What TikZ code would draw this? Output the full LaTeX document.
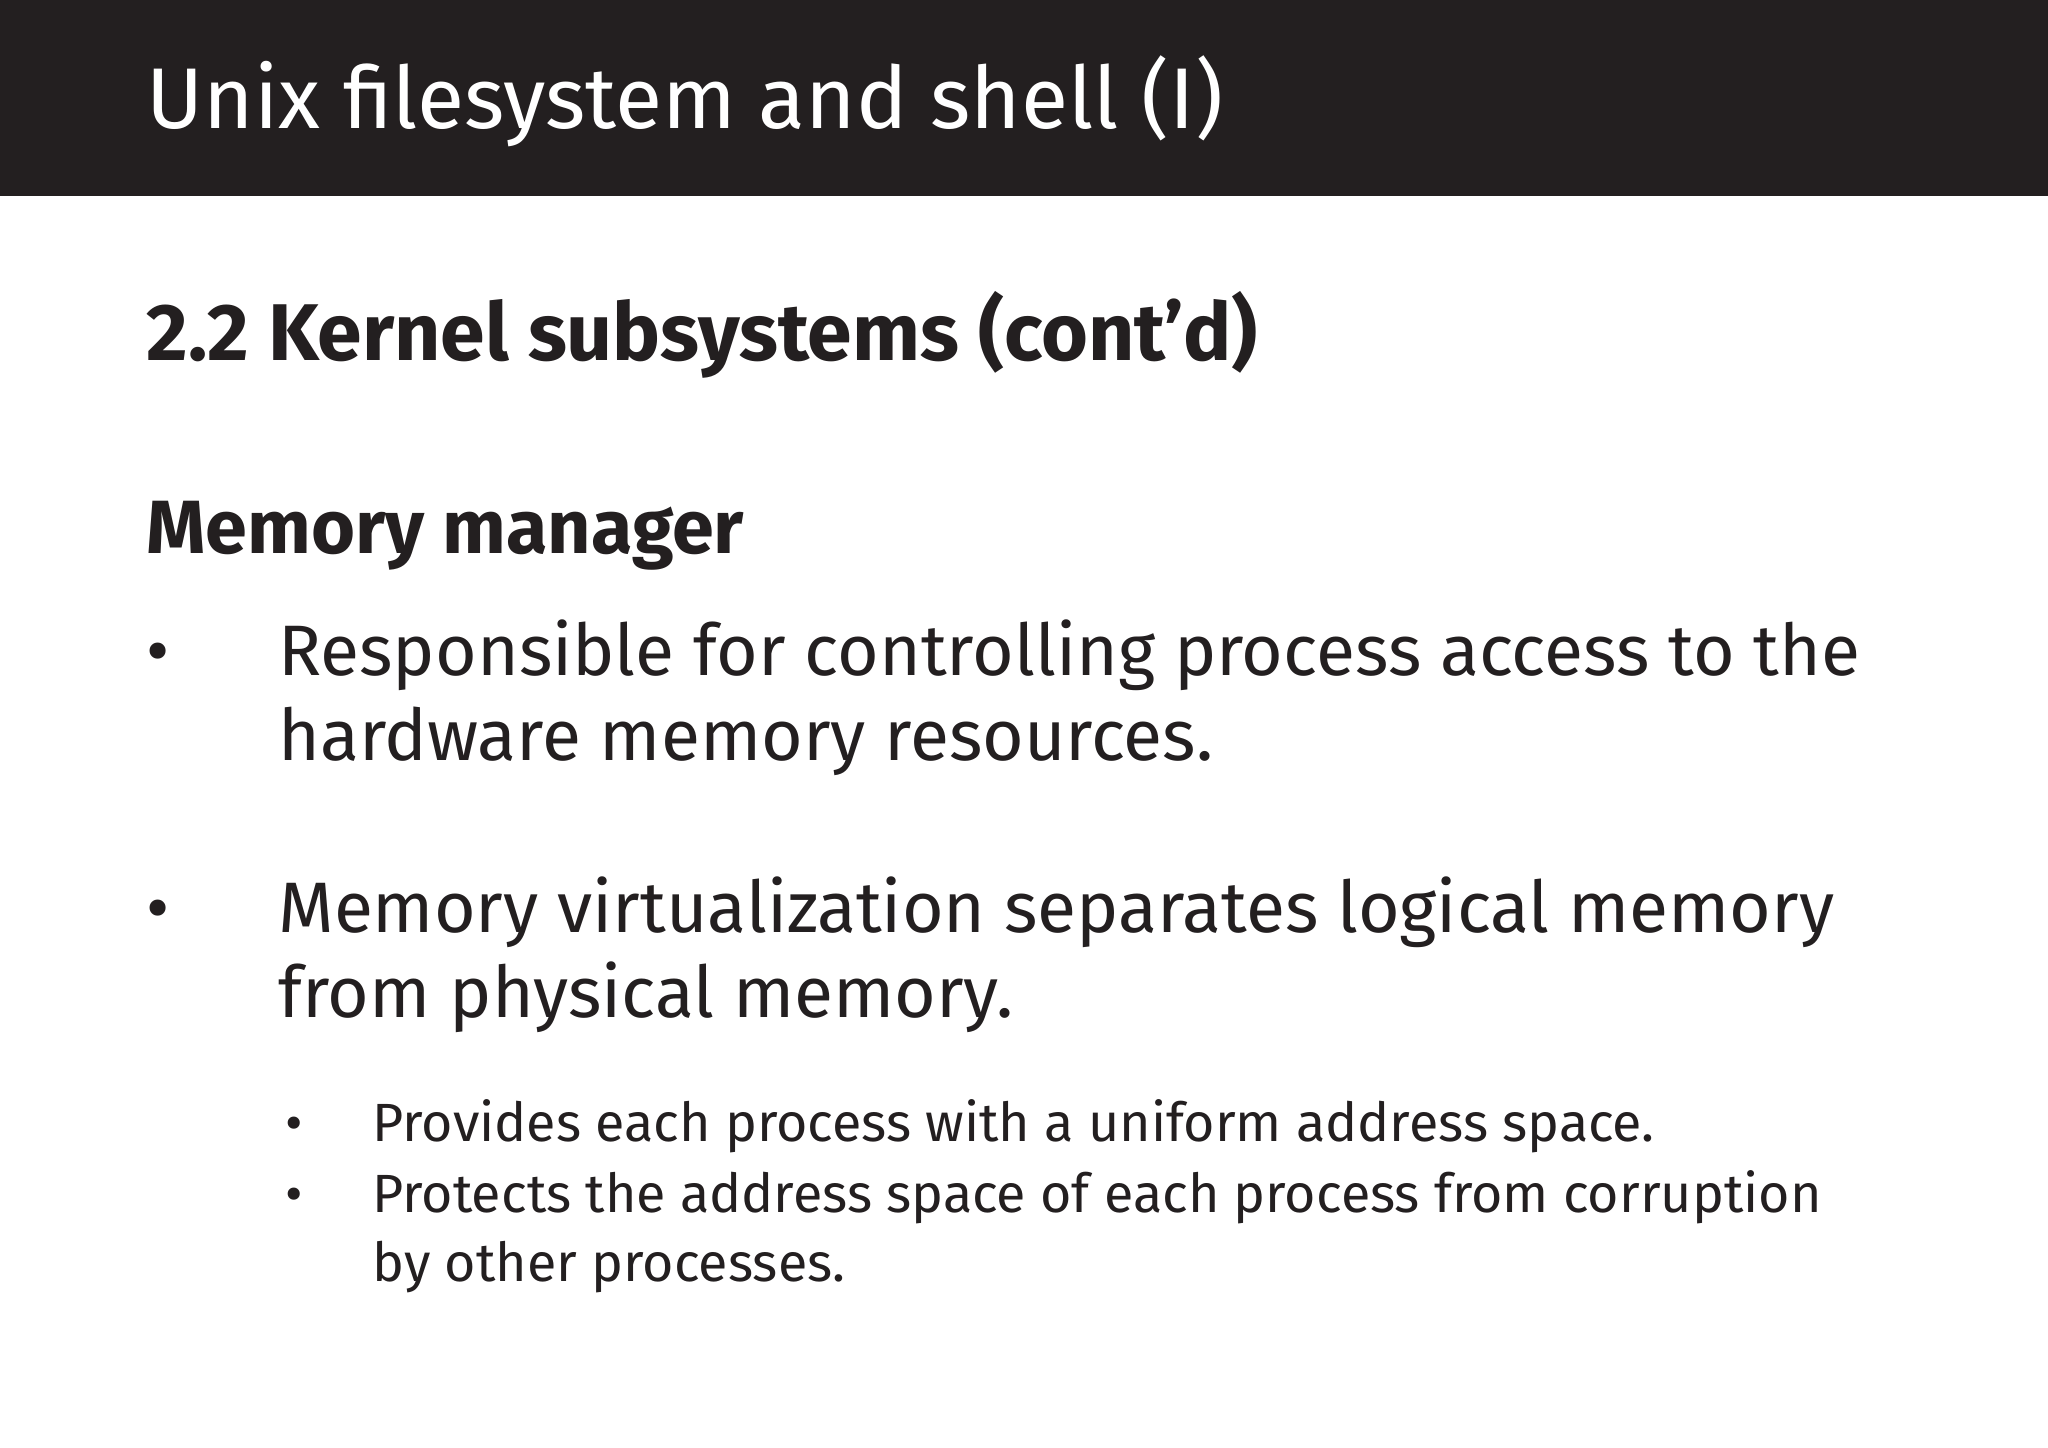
\documentclass[tikz,border=0pt]{standalone}
\usepackage{fontspec}
\setmainfont{Fira Sans}
\definecolor{band}{HTML}{231F20}
\definecolor{ink}{HTML}{231F20}
\begin{document}
\begin{tikzpicture}[x=1pt,y=-1pt,
  t/.style={anchor=base west,inner sep=0pt,text=ink},
  big/.style={t,font=\fontsize{54.7}{64}\selectfont},
  small/.style={t,font=\fontsize{41.2}{50}\selectfont}]
\useasboundingbox (0,0) rectangle (1568,1108.6);
\fill[band] (0,0) rectangle (1568,150);
\node[t,text=white,font=\fontsize{66}{80}\selectfont] (title) at (112,98) {Unix filesystem and shell (I)};
\node[t,font=\fontsize{61.6}{70}\bfseries\selectfont] (h) at (112,276) {2.2 Kernel subsystems (cont’d)};
\node[t,font=\fontsize{57.8}{64}\bfseries\selectfont] (mm) at (112,424) {Memory manager};
\node[big] (b1) at (112,517) {•};
\node[big] (l1) at (213,517) {Responsible for controlling process access to the};
\node[big] (l1b) at (213,582) {hardware memory resources.};
\node[big] (b2) at (112,714) {•};
\node[big] (l2) at (213,714) {Memory virtualization separates logical memory};
\node[big] (l2b) at (213,779) {from physical memory.};
\node[small] (s1b) at (218,874) {•};
\node[small] (s1) at (285,874) {Provides each process with a uniform address space.};
\node[small] (s2b) at (218,928) {•};
\node[small] (s2) at (285,928) {Protects the address space of each process from corruption};
\node[small] (s3) at (285,981) {by other processes.};
\end{tikzpicture}
\end{document}
